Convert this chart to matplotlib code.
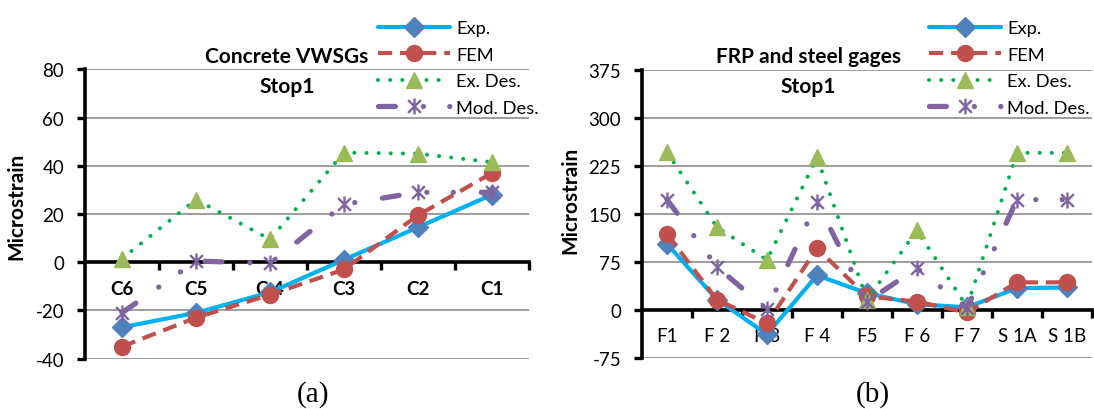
import numpy as np
import matplotlib
matplotlib.use("Agg")
import matplotlib.pyplot as plt
from matplotlib.path import Path

# ---------------- data ----------------
concrete_gages = ["C6", "C5", "C 4", "C3", "C2", "C1"]
conc_exp = [-27, -21, -12.5, 1, 14.5, 28]
conc_fem = [-35, -23, -13.5, -3, 19.5, 37]
conc_ex_des = [1.5, 26, 9.5, 45.5, 45, 41.5]
conc_mod_des = [-21, 0.5, -0.5, 24, 29, 29]
conc_yticks = [-40, -20, 0, 20, 40, 60, 80]

frp_gages = ["F1", "F 2", "F 3", "F 4", "F5", "F 6", "F 7", "S 1A", "S 1B"]
frp_exp = [103, 16, -38, 54, 26, 9, 4, 34, 35]
frp_fem = [118, 16, -21, 96, 21, 13, -4, 43, 43]
frp_ex_des = [246, 129, 78, 238, 16, 124, 5, 245, 245]
frp_mod_des = [172, 67, 1, 168, 13, 65, 3, 172, 172]
frp_yticks = [-75, 0, 75, 150, 225, 300, 375]

series_names = ["Exp.", "FEM", "Ex. Des.", "Mod. Des."]

# ---------------- styling ----------------
W, H = 1094, 410
DPI = 100
FONT = "Lato"
plt.rcParams["font.family"] = [FONT, "DejaVu Sans"]

fig = plt.figure(figsize=(W / DPI, H / DPI), dpi=DPI)


def fx(px):
    return px / W


def fy(py):
    return 1 - py / H


# asterisk-like marker: an "x" crossed by a vertical stroke
star = Path([(-1, -1), (1, 1), (-1, 1), (1, -1), (0, -1.25), (0, 1.25)],
            [Path.MOVETO, Path.LINETO] * 3)

styles = [
    dict(color="#00B0F0", lw=3.0, ls="-", marker="D", ms=10,
         mfc="#4F81BD", mec="#4F81BD", solid_capstyle="round"),
    dict(color="#C0504D", lw=3.0, ls=(0, (3.4, 1.9)), marker="o", ms=11.5,
         mfc="#C0504D", mec="#C0504D", dash_capstyle="butt"),
    dict(color="#00B050", lw=2.9, ls=(0, (0.01, 3.0)), marker="^", ms=11.5,
         mfc="#9BBB59", mec="#9BBB59", dash_capstyle="round"),
    dict(color="#8064A2", lw=3.8, ls=(0, (3.2, 5.3, 0.01, 5.0, 0.01, 5.3)),
         marker=star, ms=11.5, mfc="none", mec="#8064A2", mew=1.7,
         dash_capstyle="round"),
]


def draw_panel(rect_px, cats, series, yticks, bold_cats, title, label_pad):
    left, top, right, bottom = rect_px
    ax = fig.add_axes([fx(left), fy(bottom), fx(right - left), (bottom - top) / H])
    x = np.arange(len(cats))
    handles = []
    for vals, st, name in zip(series, styles, series_names):
        h, = ax.plot(x, vals, label=name, zorder=3, **st)
        handles.append(h)

    ax.set_xlim(-0.5, len(cats) - 0.5)
    ax.set_ylim(yticks[0], yticks[-1])
    ax.set_yticks(yticks)
    ax.set_yticklabels([str(v) for v in yticks], fontsize=13.5)
    ax.yaxis.grid(True, color="#8C8C8C", lw=1.2, zorder=0)
    ax.set_axisbelow(True)

    for side in ("top", "right"):
        ax.spines[side].set_visible(False)
    ax.spines["left"].set_linewidth(2.6)
    ax.spines["bottom"].set_linewidth(2.6)
    ax.spines["bottom"].set_position(("data", 0))
    ax.spines["bottom"].set_zorder(2)

    ax.tick_params(axis="y", direction="out", length=6, width=2.4, pad=9)
    ax.set_xticks(x)
    ax.set_xticklabels(cats, fontsize=13.5,
                       fontweight="bold" if bold_cats else "normal")
    ax.set_xticks(np.arange(0.5, len(cats), 1.0), minor=True)
    ax.tick_params(axis="x", which="major", length=0, pad=label_pad)
    ax.tick_params(axis="x", which="minor", direction="out", length=5.5, width=2.4)

    cx = title[2]
    fig.text(fx(cx), fy(57), title[0], fontsize=15, fontweight="bold",
             ha="center", va="center")
    fig.text(fx(cx), fy(87), title[1], fontsize=15, fontweight="bold",
             ha="center", va="center")
    return ax, handles


ax1, h1 = draw_panel((85, 70.4, 529, 359.6), concrete_gages,
                     [conc_exp, conc_fem, conc_ex_des, conc_mod_des],
                     conc_yticks, True, ("Concrete VWSGs", "Stop1", 287), 12.5)
ax2, h2 = draw_panel((642, 70.5, 1092, 359.0), frp_gages,
                     [frp_exp, frp_fem, frp_ex_des, frp_mod_des],
                     frp_yticks, False, ("FRP and steel gages", "Stop1", 808), 12.5)

for hs, lx in ((h1, 378), (h2, 929)):
    fig.legend(handles=hs, labels=series_names, loc="upper left",
               bbox_to_anchor=(fx(lx), fy(21)), frameon=False, fontsize=13.2,
               handlelength=3.9, handletextpad=0.35, labelspacing=0.58,
               borderpad=0, borderaxespad=0, numpoints=1)

fig.text(fx(16), fy(206), "Microstrain", rotation=90, fontsize=15,
         fontweight="bold", ha="center", va="center")
fig.text(fx(570), fy(200), "Microstrain", rotation=90, fontsize=15,
         fontweight="bold", ha="center", va="center")

fig.text(fx(313), fy(395), "(a)", fontsize=21, family="Liberation Serif",
         ha="center", va="center")
fig.text(fx(873), fy(395), "(b)", fontsize=21, family="Liberation Serif",
         ha="center", va="center")

fig.savefig("out.png", dpi=DPI)
